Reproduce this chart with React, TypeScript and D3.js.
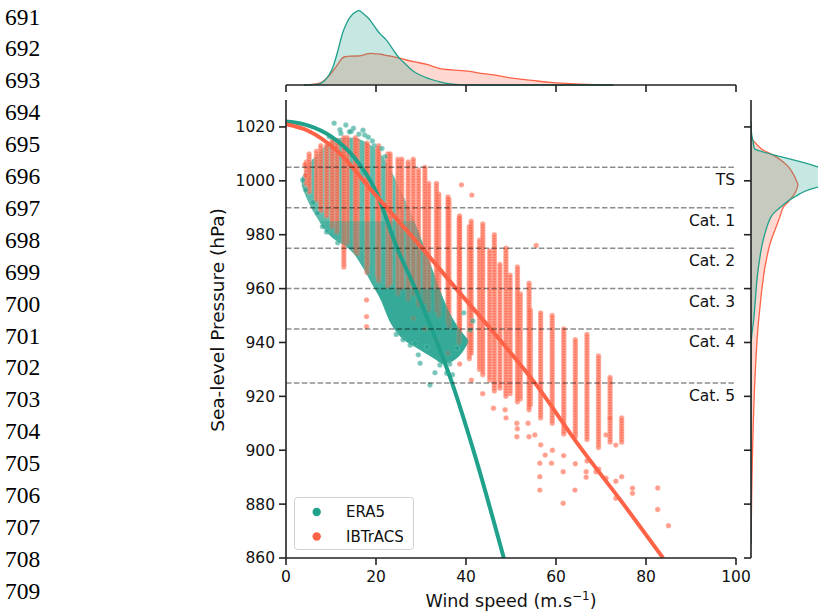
import React from "react";
import * as d3 from "d3";

// ---------- data ----------
const lineNumbers = [691, 692, 693, 694, 695, 696, 697, 698, 699, 700, 701, 702, 703, 704, 705, 706, 707, 708, 709];
const xTicks = [0, 20, 40, 60, 80, 100];
const yTicks = [860, 880, 900, 920, 940, 960, 980, 1000, 1020];
const catLevels = [1005, 990, 975, 960, 945, 925];
const catLabels = ["TS", "Cat. 1", "Cat. 2", "Cat. 3", "Cat. 4", "Cat. 5"];

// ERA5 dense cloud: wind bins with upper / lower pressure envelope
const era5BandWind = [3.5, 5, 7, 9, 11, 13, 15, 17, 19, 21, 23, 25, 27, 29, 31, 33, 35, 37, 39, 40.5];
const era5BandTop = [1001, 1006, 1010, 1013.5, 1015.5, 1016, 1016, 1015, 1013, 1010, 1005, 998, 991, 983, 974, 965, 956, 949, 944, 941];
const era5BandBot = [998, 992, 986, 981, 978, 976, 973, 968, 962, 956, 948, 943, 940, 938, 936, 934, 932, 933, 936, 940];
// ERA5 scattered points outside the dense cloud
const era5PtWind = [10.7, 13.3, 12.0, 15.0, 14.5, 3.7, 4.4, 6.0, 8.1, 9.0, 27.6, 29.4, 29.8, 33.1, 35.7, 34.2, 32.0, 28.7, 31.3, 40.9, 38.0, 36.4, 17.5, 19.6, 22.0, 11.5, 7.0, 24.5, 26.0, 41.5, 39.5, 37.0, 12.2, 14.1, 16.2, 18.3, 17.1, 19.2, 9.6, 21.3];
const era5PtPres = [1021.4, 1020.7, 1019, 1019.5, 1018.3, 1000.3, 996.6, 992, 983, 981, 939, 935.4, 932.3, 928.8, 928.6, 931.6, 924.2, 939.7, 938.4, 944.6, 938, 932, 1017, 1013, 1009, 977, 988, 943, 941, 948, 951, 928, 1017.6, 1018.2, 1017.3, 1016.2, 1018.8, 1014.8, 1016.4, 1012];

// IBTrACS columns, 10-min reported winds (5-kt steps, m/s) with pressure range of the dense stack
const ibColWindA = [5.14, 7.72, 10.29, 12.86, 15.43, 18.0, 20.58, 23.15, 25.72, 28.29, 30.87, 33.44, 36.01, 38.58, 41.16, 43.73, 46.3, 48.87, 51.44, 54.02, 56.59, 59.16, 61.73, 64.3, 66.88, 69.45, 72.02, 74.59];
const ibColMinA = [996, 989, 983, 968, 974, 966, 963, 962, 960, 958, 955, 952, 948, 944, 936, 928, 922, 920, 918, 915, 912, 910, 906, 905, 904, 901, 903, 903];
const ibColMaxA = [1010, 1013, 1015, 1016, 1016, 1014, 1013, 1010, 1008, 1008, 1005, 999, 994, 987, 985, 984, 980, 975, 968, 962, 951, 950, 945, 941, 943, 935, 927, 912];
// IBTrACS columns, 1-min winds converted (x0.88)
const ibColWindB = [4.53, 6.79, 9.05, 11.32, 13.58, 15.84, 18.11, 20.37, 22.64, 24.9, 27.16, 29.43, 31.69, 33.95, 36.22, 38.48, 40.74, 43.01, 45.27, 47.53, 49.8, 52.06, 54.32];
const ibColMinB = [999, 993, 987, 981, 977, 973, 969, 965, 961, 958, 956, 954, 952, 950, 946, 940, 934, 930, 926, 923, 921, 919, 917];
const ibColMaxB = [1007, 1011, 1013, 1015, 1016, 1015, 1013, 1012, 1010, 1008, 1007, 1004, 999, 995, 993, 986, 983, 978, 974, 969, 965, 958, 952];
// IBTrACS scattered points
const ibPtWind = [46.1, 48.7, 51.3, 51.3, 53.8, 55.3, 56.4, 56.4, 56.4, 57.6, 59, 61.6, 61.6, 64.2, 66.7, 66.7, 68.9, 71.1, 73.3, 73.3, 74.6, 77, 77, 82.6, 82.6, 85, 73.3, 72, 71.1, 39, 41.3, 55.6, 17.9, 17.9, 17.9, 4.2, 4.4, 61.7, 64.3, 59.2, 66.9, 69.5, 30.9, 33.4, 36.0, 38.6, 28.3, 48.9, 51.4, 54.0, 56.6, 41.2, 43.7];
const ibPtPres = [915.6, 915, 910, 905, 910, 905.7, 895.2, 890.2, 885.2, 898.2, 895.2, 880.3, 892, 885.2, 892, 890, 892, 889.6, 882.2, 888.5, 890.2, 885.9, 884, 886, 878, 872, 901.9, 911.9, 905.7, 998.5, 994.7, 976, 945.9, 949.6, 955.8, 1006, 1002, 898, 895, 900, 896, 893, 945, 941, 936, 932, 949, 912, 908, 905, 902, 926, 921];

// fitted curves
const era5FitWind = [0, 5, 10, 15, 20, 24.7, 28.7, 32.4, 36.9, 42, 48.4];
const era5FitPres = [1022, 1020.5, 1016.5, 1009, 996, 975, 960, 945, 925, 898, 860];
const ibFitWind = [0, 5, 11.1, 20, 30, 37.8, 45.5, 55.3, 65, 75, 83.8];
const ibFitPres = [1021, 1018.5, 1011.5, 994.5, 975.5, 960, 945, 925, 902, 880, 860];

// marginal densities (top: over wind speed; right: over pressure)
const kdeWindGrid = [4, 6, 7.6, 8.3, 10.4, 12.4, 12.7, 14.2, 16.2, 16.4, 18.3, 18.7, 20.2, 20.9, 22.4, 23.1, 24.6, 25.3, 26.8, 28.3, 29.8, 31.3, 32.7, 34.2, 35.7, 37.2, 37.9, 40.9, 43.8, 46.8, 49.8, 52.7, 55.7, 59.4, 63.1, 66.8, 72.7];
const kdeEra5Wind = [0, 0.2, 1, 3, 13, 50, 54, 70, 75, 74.5, 67, 65, 55, 51, 45, 40, 30, 26, 20, 13, 10, 7, 5, 3, 1.7, 0.6, 0.3, 0, 0, 0, 0, 0, 0, 0, 0, 0, 0];
const kdeIbWind = [0, 0.3, 2, 3.3, 13, 27, 28, 29, 29, 29, 31.5, 31.7, 31, 31, 29.5, 29, 27.5, 26.7, 25, 23.3, 22, 20.7, 18.5, 16, 15.5, 15, 14.8, 14, 11, 10, 6.7, 5.7, 4, 2.3, 1.3, 0.5, 0];

const kdePresGrid = [1022, 1018, 1016.4, 1015, 1012, 1011.5, 1009, 1006.5, 1005.3, 1004, 1002, 1001.5, 999, 998.5, 996.6, 995.4, 994.1, 992.9, 991, 990.4, 988, 986.7, 984.3, 981.8, 978, 974.3, 971.8, 966.9, 964.4, 959.5, 957, 947.1, 947, 941, 934.7, 922.4, 910, 897.6, 879, 865];
const kdeEra5Pres = [0, 0.3, 1, 2, 3, 4, 29, 55.7, 66, 76, 82, 82, 78, 76, 55.7, 50, 44, 38, 32, 30, 22.3, 20, 17, 15, 12, 10, 9, 7, 6.3, 5, 4.7, 2.4, 2.3, 0, 0, 0, 0, 0, 0, 0];
const kdeIbPres = [0, 0, 0.5, 1.5, 10, 11, 25.7, 34, 37.3, 40, 43, 44, 46.5, 47.3, 45.5, 44, 41.5, 39, 34, 32.3, 30, 29, 26.5, 24, 20, 17.3, 16, 13.3, 12.5, 10.7, 10, 7.3, 7.3, 6, 5, 3.3, 2.3, 1.3, 0.5, 0];

// ---------- layout ----------
const W = 818;
const H = 614;
const TEAL = "#1fa18b";
const ORANGE = "#ff6347";
const FONT = "DejaVu Sans, sans-serif";

const x = d3.scaleLinear().domain([0, 100]).range([286, 736]);
const y = d3.scaleLinear().domain([860, 1030]).range([558, 100]);
const topY = d3.scaleLinear().domain([0, 80]).range([85, 5]);
const rightX = d3.scaleLinear().domain([0, 80]).range([751, 831]);

export default function App() {
  const era5Band = era5BandWind.map((w, i) => ({ w, top: era5BandTop[i], bot: era5BandBot[i] }));
  const bandArea = d3
    .area<any>()
    .x((d) => x(d.w))
    .y0((d) => y(d.bot))
    .y1((d) => y(d.top))
    .curve(d3.curveMonotoneX);

  const ibDots: { w: number; p: number }[] = [];
  const addCols = (ws: number[], mins: number[], maxs: number[]) =>
    ws.forEach((w, i) => {
      d3.range(mins[i], maxs[i] + 1, 1).forEach((p) => ibDots.push({ w, p }));
    });
  addCols(ibColWindB, ibColMinB, ibColMaxB);
  addCols(ibColWindA, ibColMinA, ibColMaxA);
  ibPtWind.forEach((w, i) => ibDots.push({ w, p: ibPtPres[i] }));

  const fitLine = d3
    .line<[number, number]>()
    .x((d) => x(d[0]))
    .y((d) => y(d[1]))
    .curve(d3.curveMonotoneX);

  const topArea = d3
    .area<[number, number]>()
    .x((d) => x(d[0]))
    .y0(topY(0))
    .y1((d) => topY(d[1]))
    .curve(d3.curveBasis);
  const topLine = d3
    .line<[number, number]>()
    .x((d) => x(d[0]))
    .y((d) => topY(d[1]))
    .curve(d3.curveBasis);
  const rightArea = d3
    .area<[number, number]>()
    .y((d) => y(d[0]))
    .x0(rightX(0))
    .x1((d) => rightX(d[1]))
    .curve(d3.curveBasis);
  const rightLine = d3
    .line<[number, number]>()
    .y((d) => y(d[0]))
    .x((d) => rightX(d[1]))
    .curve(d3.curveBasis);

  const topEra = kdeWindGrid.map((w, i) => [w, kdeEra5Wind[i]] as [number, number]);
  const topIb = kdeWindGrid.map((w, i) => [w, kdeIbWind[i]] as [number, number]);
  const rEra = kdePresGrid.map((p, i) => [p, kdeEra5Pres[i]] as [number, number]);
  const rIb = kdePresGrid.map((p, i) => [p, kdeIbPres[i]] as [number, number]);
  const bandPath = bandArea(era5Band) || "";

  return (
    <svg width={W} height={H} style={{ position: "absolute", left: 0, top: 0, background: "#fff" }}>
      <rect width={W} height={H} fill="#fff" />
      {/* line numbers */}
      {lineNumbers.map((n, i) => (
        <text key={n} x={5} y={24.5 + i * 31.9} fontFamily="Liberation Serif, serif" fontSize={23.5} fill="#000">
          {n}
        </text>
      ))}

      <defs>
        <clipPath id="plotClip">
          <rect x={286} y={100} width={450} height={458} />
        </clipPath>
        <clipPath id="midClip">
          <rect x={286} y={y(985)} width={450} height={558 - y(985)} />
        </clipPath>
        <clipPath id="lowClip">
          <rect x={286} y={y(960)} width={450} height={558 - y(960)} />
        </clipPath>
        <clipPath id="rightClip">
          <rect x={751} y={100} width={80} height={458} />
        </clipPath>
      </defs>

      {/* main plot */}
      <g clipPath="url(#plotClip)">
        <path d={bandPath} fill={TEAL} fillOpacity={0.72} />
        {ibDots.map((d, i) => (
          <circle key={"i" + i} cx={x(d.w)} cy={y(d.p)} r={2.7} fill={ORANGE} opacity={0.62} stroke="#fff" strokeWidth={0.3} />
        ))}
        <g clipPath="url(#midClip)">
          <path d={bandPath} fill={TEAL} fillOpacity={0.35} />
        </g>
        <g clipPath="url(#lowClip)">
          <path d={bandPath} fill={TEAL} fillOpacity={0.4} />
        </g>
        {era5PtWind.map((w, i) => (
          <circle key={"e" + i} cx={x(w)} cy={y(era5PtPres[i])} r={2.7} fill={TEAL} opacity={0.6} stroke="#fff" strokeWidth={0.3} />
        ))}
        <path d={fitLine(era5FitWind.map((w, i) => [w, era5FitPres[i]])) || ""} fill="none" stroke={TEAL} strokeWidth={4} />
        <path d={fitLine(ibFitWind.map((w, i) => [w, ibFitPres[i]])) || ""} fill="none" stroke={ORANGE} strokeWidth={4} />
        {catLevels.map((p) => (
          <line key={p} x1={286} x2={736} y1={y(p)} y2={y(p)} stroke="#000" strokeOpacity={0.45} strokeWidth={1.5} strokeDasharray="5.5,2.4" />
        ))}
      </g>
      {catLevels.map((p, i) => (
        <text key={"c" + p} x={735} y={y(p) + 18} textAnchor="end" fontFamily={FONT} fontSize={15.5} fill="#111">
          {catLabels[i]}
        </text>
      ))}

      {/* axes */}
      <line x1={286} x2={286} y1={100} y2={558} stroke="#222" strokeWidth={1.6} />
      <line x1={286} x2={736} y1={558} y2={558} stroke="#222" strokeWidth={1.6} />
      {xTicks.map((t) => (
        <g key={"x" + t}>
          <line x1={x(t)} x2={x(t)} y1={558} y2={565} stroke="#222" strokeWidth={1.6} />
          <text x={x(t)} y={582} textAnchor="middle" fontFamily={FONT} fontSize={15.5} fill="#111">
            {t}
          </text>
        </g>
      ))}
      {yTicks.map((t) => (
        <g key={"y" + t}>
          <line x1={279} x2={286} y1={y(t)} y2={y(t)} stroke="#222" strokeWidth={1.6} />
          <text x={275} y={y(t)} dy="0.35em" textAnchor="end" fontFamily={FONT} fontSize={15.5} fill="#111">
            {t}
          </text>
        </g>
      ))}
      <text transform="translate(224,320) rotate(-90)" textAnchor="middle" fontFamily={FONT} fontSize={18.5} fill="#111">
        Sea-level Pressure (hPa)
      </text>
      <text x={511} y={607} textAnchor="middle" fontFamily={FONT} fontSize={17.5} fill="#111">
        Wind speed (m.s<tspan dy={-7} fontSize={12}>−1</tspan>
        <tspan dy={7}>)</tspan>
      </text>

      {/* legend */}
      <rect x={294.5} y={497.5} width={119} height={52} rx={3} fill="#fff" fillOpacity={0.8} stroke="#d0d0d0" strokeWidth={1} />
      <circle cx={316.7} cy={512} r={4.2} fill={TEAL} />
      <text x={346} y={517} fontFamily={FONT} fontSize={15} fill="#111">ERA5</text>
      <circle cx={316.7} cy={536.5} r={4.2} fill={ORANGE} />
      <text x={346} y={541.5} fontFamily={FONT} fontSize={15} fill="#111">IBTrACS</text>

      {/* top marginal */}
      <path d={topArea(topIb) || ""} fill={ORANGE} fillOpacity={0.25} />
      <path d={topLine(topIb) || ""} fill="none" stroke={ORANGE} strokeWidth={1.3} />
      <path d={topArea(topEra) || ""} fill={TEAL} fillOpacity={0.25} />
      <path d={topLine(topEra) || ""} fill="none" stroke={TEAL} strokeWidth={1.3} />
      <line x1={286} x2={736} y1={85} y2={85} stroke="#222" strokeWidth={1.6} />
      {xTicks.map((t) => (
        <line key={"tx" + t} x1={x(t)} x2={x(t)} y1={85} y2={92} stroke="#222" strokeWidth={1.6} />
      ))}

      {/* right marginal */}
      <g clipPath="url(#rightClip)">
        <path d={rightArea(rIb) || ""} fill={ORANGE} fillOpacity={0.25} />
        <path d={rightLine(rIb) || ""} fill="none" stroke={ORANGE} strokeWidth={1.3} />
        <path d={rightArea(rEra) || ""} fill={TEAL} fillOpacity={0.25} />
        <path d={rightLine(rEra) || ""} fill="none" stroke={TEAL} strokeWidth={1.3} />
      </g>
      <line x1={751} x2={751} y1={100} y2={558} stroke="#222" strokeWidth={1.6} />
      {yTicks.map((t) => (
        <line key={"ry" + t} x1={744} x2={751} y1={y(t)} y2={y(t)} stroke="#222" strokeWidth={1.6} />
      ))}
    </svg>
  );
}
